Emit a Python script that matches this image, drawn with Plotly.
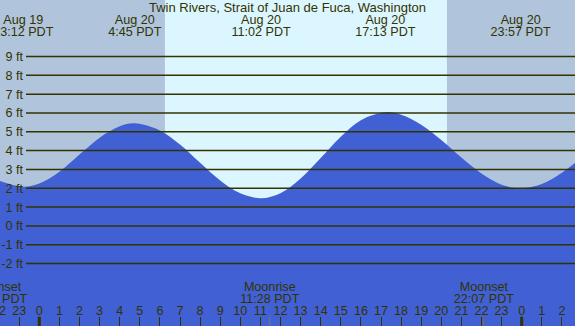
import plotly.graph_objects as go

# ---- data (hours relative to Aug 20 00:00 PDT) ----
tide_hours = [-2, -0.8, 0, 1, 2, 3, 4, 4.75, 6, 7, 8, 9, 10, 11.033, 12, 13, 14, 15, 16,
              17.217, 18, 19, 20, 21, 22, 23, 23.95, 25, 26, 27]
tide_ft = [2.40, 2.08, 2.25, 2.88, 3.79, 4.69, 5.30, 5.45, 5.07, 4.32, 3.35, 2.41, 1.73, 1.47,
           1.74, 2.52, 3.61, 4.74, 5.62, 6.04, 5.91, 5.38, 4.56, 3.63, 2.78, 2.19, 2.00,
           2.23, 2.83, 3.64]

extreme_hours = [-0.8, 4.75, 11.033, 17.217, 23.95]
extreme_dates = ["Aug 19", "Aug 20", "Aug 20", "Aug 20", "Aug 20"]
extreme_times = ["23:12 PDT", "4:45 PDT", "11:02 PDT", "17:13 PDT", "23:57 PDT"]

moon_hours = [-2.1, 11.467, 22.117]
moon_events = ["Moonset", "Moonrise", "Moonset"]
moon_times = ["21:54 PDT", "11:28 PDT", "22:07 PDT"]

sunrise_hour = 6.25
sunset_hour = 20.28

hour_ticks = list(range(-2, 27))
hour_labels = [str(h % 24) for h in hour_ticks]
midnight_hours = [0, 24]

ft_levels = list(range(-2, 10))
ft_labels = [f"{v} ft" for v in ft_levels]

title_text = "Twin Rivers, Strait of Juan de Fuca, Washington"

# ---- style / layout constants ----
X_RANGE = [-1.955, 26.652]
Y_RANGE = [-5.319, 12.003]
Y_BASE = -6
Y_DATE_ROW = 10.90
Y_TIME_ROW = 10.28
Y_MOON_EVENT = -3.27
Y_MOON_TIME = -3.94
Y_HOUR_LABEL = -4.56
Y_TICK_TOP = -4.825

TXT = "#333300"
NIGHT = "#b0c4dc"
DAY = "#dcf6ff"
WATER = "#4160d4"
FONT = "Liberation Sans, Arial, sans-serif"
FS = 12.6

fig = go.Figure()

# baseline for fill
fig.add_trace(go.Scatter(x=[X_RANGE[0] - 1, X_RANGE[1] + 1], y=[Y_BASE, Y_BASE],
                         mode="lines", line=dict(width=0), hoverinfo="skip", showlegend=False))
fig.add_trace(go.Scatter(x=tide_hours, y=tide_ft, mode="lines", line=dict(width=0, color=WATER, shape="spline"),
                         fill="tonexty", fillcolor=WATER, hoverinfo="skip", showlegend=False))

# midnight ticks (thick)
mx, my = [], []
for h in midnight_hours:
    mx += [h, h, None]
    my += [Y_RANGE[0], Y_TICK_TOP, None]
fig.add_trace(go.Scatter(x=mx, y=my, mode="lines", line=dict(width=3, color=TXT),
                         hoverinfo="skip", showlegend=False))

# moon ticks
moon_colors = ["#8a6d2e", "#7a7a70", "#8a6d2e"]
for h, c in zip(moon_hours, moon_colors):
    fig.add_trace(go.Scatter(x=[h, h], y=[Y_RANGE[0], Y_TICK_TOP], mode="lines",
                             line=dict(width=1, color=c), hoverinfo="skip", showlegend=False))

# text rows
def text_row(xs, texts, y):
    fig.add_trace(go.Scatter(x=xs, y=[y] * len(xs), mode="text", text=texts,
                             textposition="middle center",
                             textfont=dict(family=FONT, size=FS, color=TXT),
                             hoverinfo="skip", showlegend=False))

text_row(extreme_hours, extreme_dates, Y_DATE_ROW)
text_row(extreme_hours, extreme_times, Y_TIME_ROW)
text_row(moon_hours, moon_events, Y_MOON_EVENT)
text_row(moon_hours, moon_times, Y_MOON_TIME)
text_row(hour_ticks, hour_labels, Y_HOUR_LABEL)

shapes = [dict(type="rect", xref="x", yref="paper", x0=sunrise_hour, x1=sunset_hour, y0=0, y1=1,
               fillcolor=DAY, line=dict(width=0), layer="below")]
for v in ft_levels:
    shapes.append(dict(type="line", xref="paper", yref="y", x0=26 / 575, x1=1, y0=v, y1=v,
                       line=dict(color=TXT, width=1.5), layer="above"))

fig.update_layout(
    width=575, height=326,
    margin=dict(l=0, r=0, t=0, b=0),
    paper_bgcolor=NIGHT, plot_bgcolor=NIGHT,
    font=dict(family=FONT, size=FS, color=TXT),
    showlegend=False,
    shapes=shapes,
    annotations=[dict(text=title_text, xref="paper", yref="paper", x=0.5, y=1 - 7.5 / 326,
                      xanchor="center", yanchor="middle", showarrow=False,
                      font=dict(family=FONT, size=13, color=TXT))],
    xaxis=dict(range=X_RANGE, showgrid=False, zeroline=False, showline=False,
               showticklabels=False, ticks="inside", ticklen=9, tickwidth=1, tickcolor=TXT,
               tickmode="array", tickvals=hour_ticks, fixedrange=True),
    yaxis=dict(range=Y_RANGE, showgrid=False, zeroline=False, showline=False,
               anchor="free", position=23 / 575, side="left",
               tickmode="array", tickvals=ft_levels, ticktext=ft_labels, ticks="",
               tickfont=dict(family=FONT, size=FS, color=TXT), fixedrange=True),
)

fig.write_html("out.html", config={"displayModeBar": False},
               post_script="document.body.style.margin='0';document.body.style.overflow='hidden';")
